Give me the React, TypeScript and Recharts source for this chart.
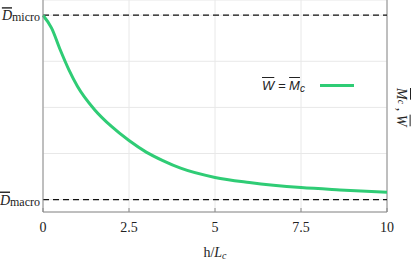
import { LineChart, Line, XAxis, YAxis, CartesianGrid, ReferenceLine, Label } from 'recharts';

// h / L_c
const hValues = [0, 0.25, 0.5, 0.75, 1.0, 1.5, 2.0, 2.5, 3.0, 3.5, 4.0, 5.0, 6.0, 7.5, 8.63, 10];
// W = M_c, in units where D_macro = 0 and D_micro = 4
const wValues = [4.0, 3.72, 3.25, 2.82, 2.46, 1.95, 1.58, 1.28, 1.03, 0.84, 0.68, 0.48, 0.37, 0.26, 0.21, 0.16];

const xTicks = [0, 2.5, 5, 7.5, 10];
const yTicks = [0, 1, 2, 3, 4];
const dMacro = 0;
const dMicro = 4;
const yLabels: Record<number, string> = { 0: 'macro', 4: 'micro' };

const data = hValues.map((h, i) => ({ h, w: wValues[i] }));

const GREEN = '#2fcc75';
const AXIS = '#8a8a8a';
const SERIF = '"Liberation Serif", "DejaVu Serif", serif';

const XTick = (props: any) => {
  const { x, y, payload } = props;
  return (
    <g>
      <line x1={x} x2={x} y1={y - 4} y2={y} stroke={AXIS} />
      <text x={x} y={y + 20} textAnchor="middle" style={{ fontFamily: SERIF, fontSize: 14 }} fill="#222">
        {payload.value}
      </text>
    </g>
  );
};

const YTick = (props: any) => {
  const { x, y, payload } = props;
  const sub = yLabels[payload.value];
  if (!sub) return null;
  return (
    <text x={x} y={y + 5} textAnchor="end" style={{ fontFamily: SERIF }} fill="#222">
      <tspan style={{ fontSize: 14, fontStyle: 'italic', textDecoration: 'overline' }}>D</tspan>
      <tspan style={{ fontSize: 12 }} dy={1}>{sub}</tspan>
    </text>
  );
};

const XLabel = (props: any) => {
  const { viewBox } = props;
  const cx = viewBox.x + viewBox.width / 2;
  return (
    <text x={cx} y={viewBox.y + 45} textAnchor="middle" style={{ fontFamily: SERIF, fontSize: 14 }} fill="#222">
      <tspan>h/</tspan>
      <tspan style={{ fontStyle: 'italic' }}>L</tspan>
      <tspan style={{ fontStyle: 'italic', fontSize: 10 }} dy={2}>c</tspan>
    </text>
  );
};

export default function App() {
  return (
    <div style={{ position: 'absolute', left: 0, top: 0, width: 415, height: 265 }}>
      <LineChart width={415} height={265} data={data} margin={{ top: 0, right: 28, left: 0, bottom: 0 }}>
        <CartesianGrid stroke="#e8e8e8" strokeWidth={1} />
        <XAxis
          dataKey="h"
          type="number"
          domain={[0, 10]}
          ticks={xTicks}
          height={53}
          axisLine={{ stroke: AXIS }}
          tickLine={false}
          tickSize={0}
          tickMargin={0}
          tick={<XTick />}
          interval={0}
        >
          <Label content={<XLabel />} />
        </XAxis>
        <YAxis
          type="number"
          domain={[-0.27, 4.33]}
          ticks={yTicks}
          width={43}
          axisLine={{ stroke: AXIS }}
          tickLine={false}
          tickSize={0}
          tickMargin={3}
          tick={<YTick />}
          interval={0}
          allowDataOverflow
        />
        <ReferenceLine x={10} stroke={AXIS} />
        <ReferenceLine y={dMicro} stroke="#111" strokeWidth={1.2} strokeDasharray="6 4" />
        <ReferenceLine y={dMacro} stroke="#111" strokeWidth={1.2} strokeDasharray="6 4" />
        <Line
          type="monotone"
          dataKey="w"
          name="W = Mc"
          stroke={GREEN}
          strokeWidth={3}
          dot={false}
          isAnimationActive={false}
        />
      </LineChart>
      {/* legend */}
      <div
        style={{
          position: 'absolute',
          left: 262,
          top: 78,
          display: 'flex',
          alignItems: 'center',
          fontFamily: '"Liberation Sans", Arial, sans-serif',
          fontSize: 13,
          color: '#222',
        }}
      >
        <span style={{ fontStyle: 'italic' }}>
          <span style={{ textDecoration: 'overline' }}>W</span> = <span style={{ textDecoration: 'overline' }}>M</span>
          <span style={{ fontSize: 10, position: 'relative', top: 2 }}>c</span>
        </span>
        <span style={{ display: 'inline-block', width: 34, height: 3, background: GREEN, marginLeft: 15 }} />
      </div>
      {/* right axis title */}
      <div
        style={{
          position: 'absolute',
          left: 393,
          top: 88,
          writingMode: 'vertical-rl',
          fontFamily: SERIF,
          fontSize: 14,
          fontStyle: 'italic',
          color: '#222',
        }}
      >
        <span style={{ textDecoration: 'overline' }}>M</span>
        <span style={{ fontSize: 10 }}>c</span>
        <span style={{ fontStyle: 'normal' }}> , </span>
        <span style={{ textDecoration: 'overline' }}>W</span>
      </div>
    </div>
  );
}
